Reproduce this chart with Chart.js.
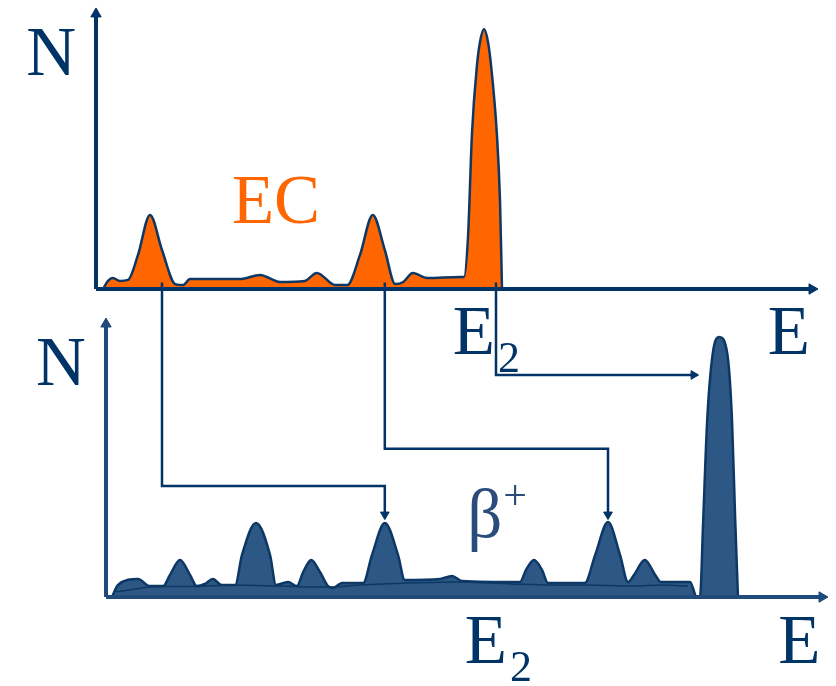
<!DOCTYPE html>
<html>
<head>
<meta charset="utf-8">
<script src="https://cdn.jsdelivr.net/npm/chart.js@4"></script>
<style>
  html, body { margin: 0; padding: 0; background: #fff; }
  #wrap { width: 836px; height: 686px; }
</style>
</head>
<body>
<div id="wrap"><canvas id="spectra"></canvas></div>
<script>
// energies (E) and counts (N)
// top panel: EC spectrum, counts on its own axis (y2)
const ecE = [0.875, 1.5, 2.1, 3.0, 4.0, 5.25, 6.75, 8.25, 9.9, 10.9, 11.75, 18.0, 20.5, 23.0, 26.1, 27.6, 29.9, 31.4,
             33.0, 34.6, 36.1, 37.4, 38.4, 39.6, 41.4, 45.5, 46.0, 46.5, 47.0, 47.6, 48.0, 48.5, 49.0, 49.4, 50.1, 50.5, 50.75];
const ecN = [0, 3.1, 4.2, 3.1, 3.5, 13.1, 28.5, 15, 1.9, 1.5, 3.8, 3.8, 5.4, 2.7, 3.1, 6.2, 1.5, 1.5,
             13.1, 28.5, 15, 1.9, 2.7, 6.2, 4.2, 4.6, 4.6, 20, 60, 85.4, 95, 100, 95, 85.4, 60, 34, 0];

// bottom panel: beta+ spectrum
const betaE = [2.0, 2.75, 5.25, 6.75, 8.4, 9.25, 10.5, 11.75, 12.6, 13.6, 14.6, 15.75, 17.4, 18.25, 20.0, 21.75, 22.5,
               24.0, 25.1, 25.9, 26.9, 28.0, 29.0, 29.6, 30.75, 33.4, 34.5, 36.1, 37.75, 38.6, 43.0, 44.5, 45.75,
               53.0, 53.75, 54.75, 55.75, 56.5, 61.1, 62.4, 64.0, 65.5, 66.5, 67.25, 68.6, 69.9, 70.6, 74.25, 75.1,
               75.5, 75.9, 76.4, 77.1, 77.9, 78.9, 79.5, 79.9, 80.25];
const betaN = [0, 4.6, 6.9, 4.2, 4.2, 8.5, 14.2, 8.5, 4.2, 5.0, 6.9, 4.6, 4.6, 16.2, 28.5, 16.2, 4.6,
               5.8, 4.2, 9.6, 14.2, 9.6, 4.2, 3.5, 5.4, 5.4, 16.2, 28.5, 16.2, 6.5, 6.9, 8.1, 6.2,
               5.8, 10.4, 14.2, 10.4, 5.4, 5.4, 16.2, 28.8, 16.2, 5.8, 8.5, 14.2, 8.5, 5.8, 5.8, 0,
               0, 29.6, 68.1, 93.8, 100, 93.8, 68.1, 29.6, 0];

// continuum under the beta+ peaks
const contE = [2.5, 8.0, 12.5, 17.0, 22.8, 25.0, 29.2, 33.0, 39.0, 45.0, 52.0, 57.0, 61.0, 67.0, 71.0, 74.0];
const contN = [2.0, 4.0, 4.0, 4.6, 4.2, 4.0, 3.8, 4.6, 5.4, 5.8, 5.0, 4.6, 4.6, 4.2, 4.6, 4.2];

// lines linking EC lines to beta+ lines (in bottom-axis units)
const link1E = [8.25, 8.25, 36.1, 36.1];
const link1N = [121, 42.7, 42.7, 31.7];
const link2E = [36.1, 36.1, 64.0, 64.0];
const link2N = [121, 57.0, 57.0, 31.7];
const link3E = [50.0, 50.0, 74.7];
const link3N = [121, 85.4, 85.4];

// axes
const topAxisX = { e: [0, 89.5], n: [0, 0] };
const topAxisY = { e: [0, 0], n: [0, 105.8] };
const botAxisX = { e: [1.25, 90.75], n: [0, 0] };
const botAxisY = { e: [1.25, 1.25], n: [0, 105] };

// labels: text, E, N, axis
const labels = [
  { text: 'N', e: -5.6, n: 82.3, axis: 'y2', color: '#003366', align: 'center' },
  { text: 'N', e: -4.4, n: 81.5, axis: 'y', color: '#003366', align: 'center' },
  { text: 'EC', e: 22.5, n: 25.4, axis: 'y2', color: '#ff6600', align: 'center' },
  { text: 'E', sub: '2', e: 44.6, n: -25, axis: 'y2', color: '#003366', align: 'left' },
  { text: 'E', e: 86.6, n: -25, axis: 'y2', color: '#003366', align: 'center' },
  { text: 'E', sub: '2', e: 46.1, n: -25.4, axis: 'y', color: '#003366', align: 'left' },
  { text: 'E', e: 87.9, n: -25.4, axis: 'y', color: '#003366', align: 'center' },
  { text: 'β', sup: '+', e: 46.4, n: 23.1, axis: 'y', color: '#2a4c7b', align: 'left' }
];

const NAVY = '#003366';
const SERIF = '"Times New Roman", "Liberation Serif", serif';

function pts(es, ns) {
  return es.map((e, i) => ({ x: e, y: ns[i] }));
}

// line with an arrow head on the last point
function arrowLine(es, ns, axis, color, width, rot, r) {
  const last = es.length - 1;
  return {
    data: pts(es, ns),
    yAxisID: axis,
    borderColor: color,
    borderWidth: width,
    fill: false,
    tension: 0,
    pointStyle: 'triangle',
    pointRotation: rot,
    pointRadius: es.map((_, i) => i === last ? r : 0),
    pointBackgroundColor: color,
    pointBorderColor: color,
    pointBorderWidth: 1
  };
}

const labelPlugin = {
  id: 'labels',
  afterDatasetsDraw(chart) {
    const ctx = chart.ctx;
    ctx.save();
    labels.forEach(l => {
      const x = chart.scales.x.getPixelForValue(l.e);
      const y = chart.scales[l.axis].getPixelForValue(l.n);
      ctx.fillStyle = l.color;
      ctx.font = '69px ' + SERIF;
      ctx.textAlign = l.align;
      ctx.textBaseline = 'alphabetic';
      ctx.fillText(l.text, x, y);
      const w = ctx.measureText(l.text).width;
      if (l.sub) {
        ctx.font = '44px ' + SERIF;
        ctx.textAlign = 'left';
        ctx.fillText(l.sub, x + w + 3, y + 18);
      }
      if (l.sup) {
        ctx.font = '42px ' + SERIF;
        ctx.textAlign = 'left';
        ctx.fillText(l.sup, x + w + 1, y - 28);
      }
    });
    ctx.restore();
  }
};

const ctx = document.getElementById('spectra').getContext('2d');
new Chart(ctx, {
  type: 'line',
  data: {
    datasets: [
      arrowLine(topAxisY.e, topAxisY.n, 'y2', NAVY, 4, 0, 6),
      arrowLine(topAxisX.e, topAxisX.n, 'y2', NAVY, 4, 90, 6),
      arrowLine(botAxisY.e, botAxisY.n, 'y', '#1f4a7a', 4, 0, 6),
      arrowLine(botAxisX.e, botAxisX.n, 'y', '#1f4a7a', 4, 90, 6),
      arrowLine(link1E, link1N, 'y', NAVY, 2.5, 180, 5),
      arrowLine(link2E, link2N, 'y', NAVY, 2.5, 180, 5),
      arrowLine(link3E, link3N, 'y', NAVY, 2.5, 90, 5),
      {
        data: pts(contE, contN),
        yAxisID: 'y',
        borderColor: '#0d3866',
        borderWidth: 1.5,
        pointRadius: 0,
        fill: false,
        cubicInterpolationMode: 'monotone'
      },
      {
        data: pts(betaE, betaN),
        yAxisID: 'y',
        borderColor: '#0d3866',
        borderWidth: 2.5,
        backgroundColor: '#2d5784',
        pointRadius: 0,
        fill: 'origin',
        cubicInterpolationMode: 'monotone'
      },
      {
        data: pts(ecE, ecN),
        yAxisID: 'y2',
        borderColor: '#0d3866',
        borderWidth: 2.5,
        backgroundColor: '#ff6600',
        pointRadius: 0,
        fill: 'origin',
        cubicInterpolationMode: 'monotone'
      }
    ]
  },
  options: {
    responsive: true,
    maintainAspectRatio: false,
    animation: false,
    layout: { padding: 0, autoPadding: false },
    scales: {
      x: { type: 'linear', min: -12, max: 92.5, display: false },
      y: { type: 'linear', min: -34.23, max: 229.62, display: false },
      y2: { type: 'linear', min: -152.69, max: 111.15, display: false }
    },
    plugins: {
      legend: { display: false },
      tooltip: { enabled: false }
    }
  },
  plugins: [labelPlugin]
});
</script>
</body>
</html>
